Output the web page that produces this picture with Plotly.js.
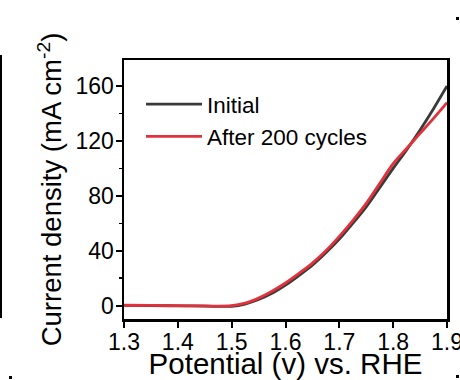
<!DOCTYPE html>
<html>
<head>
<meta charset="utf-8">
<script src="https://cdn.plot.ly/plotly-3.0.1.min.js"></script>
<style>html,body{margin:0;padding:0;background:#fff;}#chart{width:460px;height:380px;}</style>
</head>
<body>
<div id="chart"></div>
<script>
// Data
const potential = [1.3, 1.35, 1.4, 1.45, 1.5, 1.525, 1.55, 1.575, 1.6, 1.625, 1.65, 1.675, 1.7, 1.725, 1.75, 1.775, 1.8, 1.825, 1.85, 1.875, 1.9];
const initialCurrent = [0.2, 0.1, -0.1, -0.3, -0.4, 1.2, 4.5, 9.0, 15, 22, 29.5, 38.5, 48.5, 60, 72, 86, 100, 113.5, 128, 143.5, 160];
const afterCurrent   = [0.3, 0.2, 0.0, -0.2, 0.0, 1.8, 5.5, 10.5, 16.5, 23.5, 31, 40, 50.5, 62, 74.5, 89, 103.5, 114.5, 125.5, 136.5, 148];
const seriesNames = ["Initial", "After 200 cycles"];
const xTicks = [1.3, 1.4, 1.5, 1.6, 1.7, 1.8, 1.9];
const yTicks = [0, 40, 80, 120, 160];

const W = 460, H = 380;
const M = {l: 124, r: 13, t: 60, b: 61};
const pw = W - M.l - M.r, ph = H - M.t - M.b;
const px = v => (v - M.l) / pw;
const py = v => 1 - (v - M.t) / ph;
const FONT = "Liberation Sans, Arial, sans-serif";

const traces = [
  {x: potential, y: initialCurrent, name: seriesNames[0], type: "scatter", mode: "lines",
   line: {color: "#3a3a3a", width: 2.8, shape: "spline"}},
  {x: potential, y: afterCurrent, name: seriesNames[1], type: "scatter", mode: "lines",
   line: {color: "#e2313b", width: 2.8, shape: "spline"}}
];

// decorative fragments of neighbouring panels
const frag = [
  {type: "line", xref: "paper", yref: "paper", x0: px(1), x1: px(1), y0: py(55), y1: py(318), line: {color: "#000", width: 2}},
  {type: "rect", xref: "paper", yref: "paper", x0: px(9), x1: px(12), y0: py(376), y1: py(379), fillcolor: "#000", line: {width: 0}},
  {type: "rect", xref: "paper", yref: "paper", x0: px(456), x1: px(459), y0: py(17), y1: py(20), fillcolor: "#000", line: {width: 0}},
  {type: "rect", xref: "paper", yref: "paper", x0: px(456), x1: px(459), y0: py(375), y1: py(378), fillcolor: "#000", line: {width: 0}}
];

const layout = {
  width: W, height: H,
  margin: M,
  paper_bgcolor: "#fff", plot_bgcolor: "#fff",
  font: {family: FONT, color: "#000", size: 23},
  showlegend: true,
  legend: {x: px(141), y: py(83), xanchor: "left", yanchor: "top",
           bgcolor: "rgba(0,0,0,0)", borderwidth: 0,
           font: {family: FONT, size: 22.5, color: "#000"}, itemwidth: 56, tracegroupgap: 0},
  xaxis: {range: [1.3, 1.9], tickvals: xTicks, ticktext: xTicks.map(v => v.toFixed(1)),
          showgrid: false, zeroline: false, showline: true, mirror: true,
          linecolor: "#000", linewidth: 2.5, ticks: "outside", ticklen: 6, tickwidth: 2, tickcolor: "#000",
          ticklabelstandoff: -5, ticklabeloverflow: "allow",
          tickfont: {family: FONT, size: 23, color: "#000"},
          title: {text: "Potential (v) vs. RHE", font: {family: FONT, size: 29.5, color: "#000"}, standoff: 1},
          automargin: false, fixedrange: true},
  yaxis: {range: [-9.7, 179], tickvals: yTicks, ticktext: yTicks.map(String),
          showgrid: false, zeroline: false, showline: true, mirror: true,
          linecolor: "#000", linewidth: 2.5, ticks: "outside", ticklen: 6, tickwidth: 2, tickcolor: "#000",
          ticklabelstandoff: -3,
          minor: {dtick: 20, tick0: 0, ticks: "outside", ticklen: 3, tickwidth: 1.5, tickcolor: "#000", showgrid: false},
          tickfont: {family: FONT, size: 23, color: "#000"},
          title: {text: "Current density (mA cm<sup>-2</sup>)", font: {family: FONT, size: 27.5, color: "#000"}, standoff: 6},
          automargin: false, fixedrange: true},
  shapes: frag
};

Plotly.newPlot("chart", traces, layout, {staticPlot: true, displayModeBar: false});
</script>
</body>
</html>
